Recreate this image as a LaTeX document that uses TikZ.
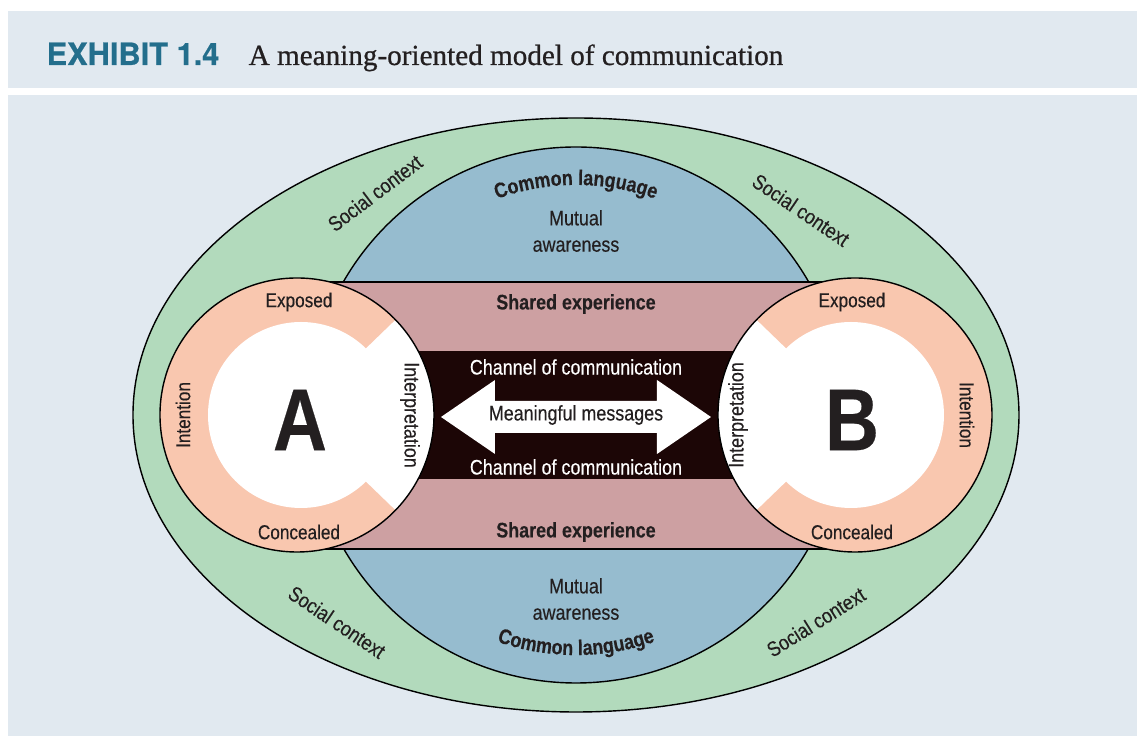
\documentclass[tikz,border=0pt]{standalone}
\usepackage{fontspec}
\usetikzlibrary{decorations.text}
\newfontfamily\condfont[FakeStretch=0.85,FakeBold=0.3]{Liberation Sans}
\newfontfamily\headfont[FakeBold=0.6]{TeX Gyre Heros}
\newfontfamily\capfont[FakeBold=0.7]{Liberation Serif}
\definecolor{panel}{HTML}{E1E9F0}
\definecolor{ctxgreen}{HTML}{B2DABC}
\definecolor{langblue}{HTML}{96BCCF}
\definecolor{sharedpink}{HTML}{CDA0A2}
\definecolor{skin}{HTML}{F9C7AF}
\definecolor{chanblack}{HTML}{1C0606}
\definecolor{exhibit}{HTML}{236E8C}
\definecolor{ink}{HTML}{231F20}
\begin{document}
\begin{tikzpicture}[x=.02cm,y=.02cm,line width=.8pt,
  lbl/.style={font=\condfont\fontsize{12}{14}\selectfont,text=ink,inner sep=0pt},
  small/.style={lbl,font=\condfont\fontsize{11.5}{14}\selectfont},
  head/.style={lbl,font=\condfont\bfseries\fontsize{12}{14}\selectfont},
  who/.style={lbl,font=\condfont\bfseries\fontsize{50}{50}\selectfont}]
  \useasboundingbox (-576,-321) rectangle (561,415);
  % background panels and heading
  \fill[panel] (-568,327) rectangle (561,404);
  \fill[panel] (-568,-321) rectangle (561,320);
  \node[anchor=base west,inner sep=0pt,text=exhibit,font=\headfont\bfseries\fontsize{17.5}{20}\selectfont] (exh) at (-530,350) {EXHIBIT 1.4};
  \node[anchor=base west,inner sep=0pt,text=ink,font=\capfont\fontsize{16.6}{20}\selectfont] (cap) at (-328,350) {A meaning-oriented model of communication};

  \coordinate (o) at (0,0);
  \coordinate (a) at (-279,0);
  \coordinate (b) at (279,0);
  % social context, common language, shared experience
  \filldraw[fill=ctxgreen] (o) ellipse [x radius=443,y radius=297];
  \filldraw[fill=langblue] (o) circle (268);
  \fill[sharedpink] (-279,-134) rectangle (279,133);
  \draw (-279,133)--(279,133);
  \draw (-279,-134)--(279,-134);
  \fill[chanblack] (-279,-64) rectangle (279,64);
  % the two persons
  \foreach \p/\dir in {a/0,b/180} {
    \fill[skin] (\p) circle (137);
    \fill[white] (\p) ++(\dir:4) circle (93);
    \fill[white] (\p) -- ++(\dir-44:137) arc[start angle=\dir-44,end angle=\dir+44,radius=137] -- cycle;
    \draw (\p) circle (137);
  }
  % messages
  \fill[white] (-135,-2) -- (-81,35) -- (-81,14) -- (81,14) -- (81,35) -- (135,-2)
    -- (81,-39) -- (81,-18) -- (-81,-18) -- (-81,-39) -- cycle;
  \node[lbl] (msg) at (0,0) {Meaningful messages};
  \node[lbl,text=white] (chtop) at (0,48) {Channel of communication};
  \node[lbl,text=white] (chbot) at (0,-52) {Channel of communication};
  \node[head] (shtop) at (0,111) {Shared experience};
  \node[head] (shbot) at (0,-117) {Shared experience};
  \node[lbl,align=center] (mutop) at (0,184) {Mutual\\[1pt]awareness};
  \node[lbl,align=center] (mubot) at (0,-184) {Mutual\\[1pt]awareness};
  \path[decorate,decoration={text along path,text align=center,text color=ink,
    text={|\condfont\bfseries\fontsize{12}{14}\selectfont|Common language}}]
    (160:230) arc[start angle=160,end angle=20,radius=230];
  \path[decorate,decoration={text along path,text align=center,text color=ink,
    text={|\condfont\bfseries\fontsize{12}{14}\selectfont|Common language}}]
    (200:240) arc[start angle=200,end angle=340,radius=240];
  % social context labels
  \node[lbl,rotate=37] (sctl) at (-201,222) {Social context};
  \node[lbl,rotate=-34] (sctr) at (225,205) {Social context};
  \node[lbl,rotate=-34] (scbl) at (-239,-207) {Social context};
  \node[lbl,rotate=32] (scbr) at (240,-207) {Social context};
  % person A
  \node[who] (pa) at (-276,-5) {A};
  \node[small] (expa) at (-277,113) {Exposed};
  \node[small] (cona) at (-277,-117) {Concealed};
  \node[small,rotate=90] (inta) at (-393,0) {Intention};
  \node[lbl,rotate=-90] (ipa) at (-166,0) {Interpretation};
  % person B
  \node[who] (pb) at (276,-5) {B};
  \node[small] (expb) at (276,113) {Exposed};
  \node[small] (conb) at (276,-117) {Concealed};
  \node[small,rotate=-90] (intb) at (391,0) {Intention};
  \node[lbl,rotate=90] (ipb) at (162,0) {Interpretation};
\end{tikzpicture}
\end{document}
